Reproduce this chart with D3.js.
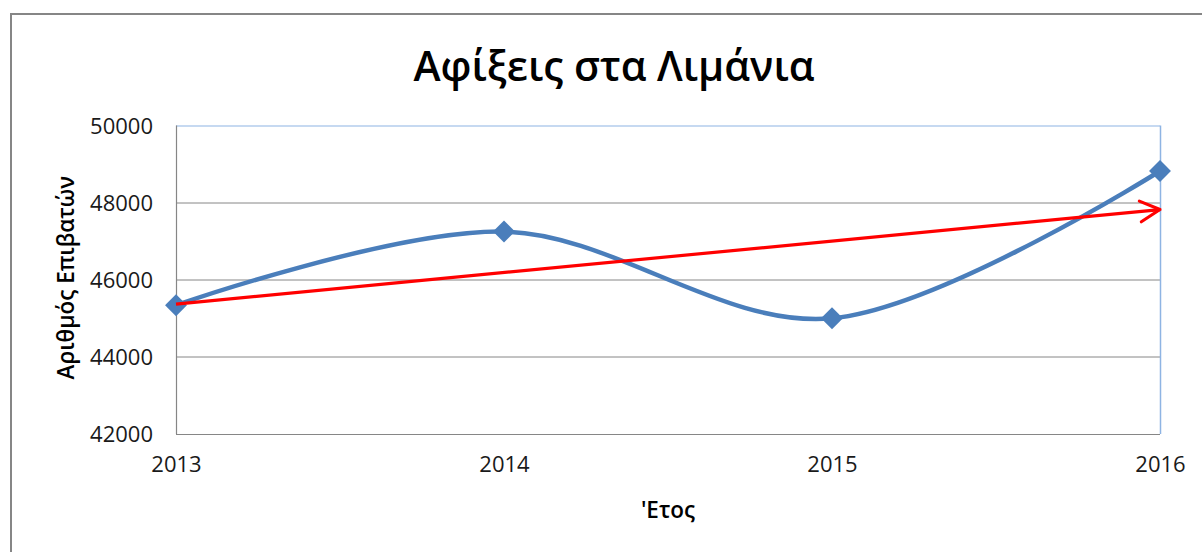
<!DOCTYPE html>
<html>
<head>
<meta charset="utf-8">
<script src="https://cdn.jsdelivr.net/npm/d3@7"></script>
<style>
  body { margin: 0; background: #fff; }
  text { font-family: "Open Sans", "DejaVu Sans", sans-serif; fill: #1a1a1a; }
</style>
</head>
<body>
<div id="chart"></div>
<script>
// values
var years = ["2013", "2014", "2015", "2016"];
var arrivals = [45340, 47250, 45000, 48820];
// trend arrow, start and end values (2013 -> 2016)
var trendYears = ["2013", "2016"];
var trendValues = [45370, 47820];
var yTicks = [42000, 44000, 46000, 48000, 50000];

var title = "Αφίξεις στα Λιμάνια";
var yTitle = "Αριθμός Επιβατών";
var xTitle = "'Ετος";

// set the dimensions and margins of the graph
var W = 1202, H = 552;
var margin = {top: 125.5, right: 42, bottom: 118, left: 176},
    width = W - margin.left - margin.right,
    height = H - margin.top - margin.bottom;

var svg = d3.select("#chart").append("svg")
    .attr("width", W)
    .attr("height", H);

// outer chart border
svg.append("rect")
    .attr("x", 11).attr("y", 14)
    .attr("width", 1200).attr("height", 600)
    .style("fill", "none")
    .style("stroke", "#868686")
    .style("stroke-width", 2);

svg.append("text")
    .attr("x", 614).attr("y", 81)
    .attr("text-anchor", "middle")
    .style("font-size", "41px")
    .style("font-weight", 600)
    .style("fill", "#000")
    .text(title);

var g = svg.append("g")
    .attr("transform", "translate(" + margin.left + "," + margin.top + ")");

// set the ranges
var x = d3.scalePoint().domain(years).range([0, width]).padding(0);
var y = d3.scaleLinear().domain([42000, 50000]).range([height, 0]);

// gridlines
g.selectAll(".grid").data(yTicks.slice(1, 4)).enter().append("line")
    .attr("x1", 0).attr("x2", width)
    .attr("y1", function(d){ return Math.round(y(d)) + 0.5; })
    .attr("y2", function(d){ return Math.round(y(d)) + 0.5; })
    .style("stroke", "#868686").style("stroke-width", 1);

// plot area frame: top and right light blue, left and bottom gray
g.append("line").attr("x1", 0).attr("x2", width).attr("y1", 0.5).attr("y2", 0.5)
    .style("stroke", "#8eb4e3").style("stroke-width", 1.2);
g.append("line").attr("x1", width + 0.5).attr("x2", width + 0.5).attr("y1", 0).attr("y2", height)
    .style("stroke", "#8eb4e3").style("stroke-width", 1.5);
g.append("line").attr("x1", 0.5).attr("x2", 0.5).attr("y1", 0).attr("y2", height)
    .style("stroke", "#868686").style("stroke-width", 1.2);
g.append("line").attr("x1", 0).attr("x2", width).attr("y1", height + 0.5).attr("y2", height + 0.5)
    .style("stroke", "#868686").style("stroke-width", 1.2);

// Y axis labels
var yAxis = g.append("g")
    .call(d3.axisLeft(y).tickValues(yTicks).tickSize(0).tickPadding(23).tickFormat(d3.format("d")));
yAxis.select(".domain").remove();
yAxis.selectAll("text").style("font-size", "22px").attr("dy", "0.36em");

// X axis labels
var xAxis = g.append("g")
    .attr("transform", "translate(0," + height + ")")
    .call(d3.axisBottom(x).tickSize(0).tickPadding(22));
xAxis.select(".domain").remove();
xAxis.selectAll("text").style("font-size", "22px");

// axis titles
svg.append("text")
    .attr("transform", "translate(74," + (margin.top + height / 2 - 2) + ") rotate(-90)")
    .attr("text-anchor", "middle")
    .style("font-size", "22.5px")
    .style("font-weight", 600)
    .style("fill", "#000")
    .text(yTitle);

svg.append("text")
    .attr("x", margin.left + width / 2).attr("y", 518)
    .attr("text-anchor", "middle")
    .style("font-size", "22.5px")
    .style("font-weight", 600)
    .style("fill", "#000")
    .text(xTitle);

// smoothed series line
var line = d3.line()
    .x(function(d, i){ return x(years[i]); })
    .y(function(d){ return y(d); })
    .curve(d3.curveCardinal.tension(0));

g.append("path")
    .datum(arrivals)
    .attr("d", line)
    .style("fill", "none")
    .style("stroke", "#4a7ebb")
    .style("stroke-width", 4.5);

// diamond markers
g.selectAll(".pt").data(arrivals).enter().append("path")
    .attr("d", d3.symbol().type(d3.symbolSquare).size(240))
    .attr("transform", function(d, i){
      return "translate(" + x(years[i]) + "," + y(d) + ") rotate(45)";
    })
    .style("fill", "#4a7ebb");

// trend arrow
svg.append("defs").append("marker")
    .attr("id", "arrow")
    .attr("viewBox", "0 0 12 12")
    .attr("refX", 10.5).attr("refY", 6)
    .attr("markerWidth", 7.8).attr("markerHeight", 7.8)
    .attr("markerUnits", "strokeWidth")
    .attr("orient", "auto")
  .append("path")
    .attr("d", "M1,1 L10.5,6 L1,11")
    .style("fill", "none")
    .style("stroke", "#ff0000")
    .style("stroke-width", 1.5)
    .style("stroke-linecap", "round")
    .style("stroke-linejoin", "round");

g.append("line")
    .attr("x1", x(trendYears[0])).attr("y1", y(trendValues[0]))
    .attr("x2", x(trendYears[1])).attr("y2", y(trendValues[1]))
    .attr("marker-end", "url(#arrow)")
    .style("stroke", "#ff0000")
    .style("stroke-width", 3.2);
</script>
</body>
</html>
